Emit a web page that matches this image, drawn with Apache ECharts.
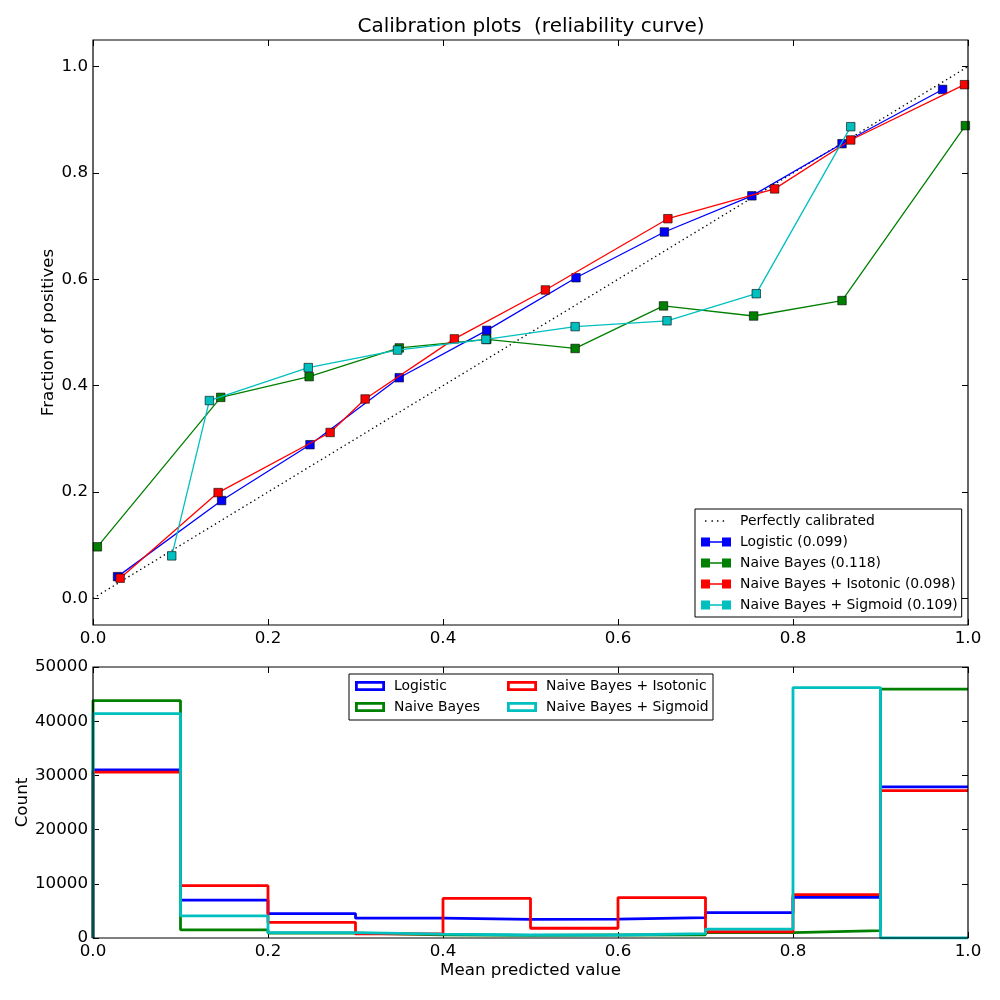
<!DOCTYPE html>
<html><head><meta charset="utf-8">
<script src="https://cdn.jsdelivr.net/npm/echarts@6/dist/echarts.min.js"></script>
<style>html,body{margin:0;padding:0;background:#fff}#c{width:1000px;height:1000px}</style>
</head><body><div id="c"></div>
<script>
// ---- data ----
const perfectX = [0, 1];
const perfectY = [0, 1];

const logisticX = [0.028, 0.147, 0.248, 0.350, 0.450, 0.552, 0.653, 0.753, 0.856, 0.971];
const logisticY = [0.041, 0.184, 0.289, 0.415, 0.504, 0.603, 0.689, 0.757, 0.855, 0.957];

const nbX = [0.005, 0.146, 0.247, 0.350, 0.450, 0.551, 0.652, 0.755, 0.856, 0.997];
const nbY = [0.097, 0.378, 0.417, 0.471, 0.487, 0.470, 0.550, 0.531, 0.560, 0.889];

const isoX = [0.031, 0.143, 0.271, 0.311, 0.413, 0.517, 0.657, 0.779, 0.866, 0.996];
const isoY = [0.038, 0.199, 0.312, 0.375, 0.488, 0.580, 0.714, 0.770, 0.862, 0.966];

const sigX = [0.090, 0.133, 0.246, 0.348, 0.449, 0.551, 0.656, 0.758, 0.866];
const sigY = [0.080, 0.372, 0.434, 0.467, 0.487, 0.511, 0.522, 0.573, 0.887];

const modelNames = ['Logistic', 'Naive Bayes', 'Naive Bayes + Isotonic', 'Naive Bayes + Sigmoid'];
const brierScores = ['0.099', '0.118', '0.098', '0.109'];

const binEdges = [0, 0.1, 0.2, 0.3, 0.4, 0.5, 0.6, 0.7, 0.8, 0.9, 1.0];
const logisticCounts = [31000, 7000, 4500, 3650, 3450, 3500, 3750, 4700, 7500, 27900];
const nbCounts       = [43800, 1500, 900, 600, 500, 550, 600, 1000, 1350, 45900];
const isoCounts      = [30600, 9650, 2900, 750, 7300, 1800, 7450, 1150, 8000, 27200];
const sigCounts      = [41400, 4100, 1000, 700, 550, 550, 800, 1650, 46200, 0];

const yTicksTop = [0, 0.2, 0.4, 0.6, 0.8, 1.0];

// ---- styles ----
const FONT = 'DejaVu Sans';
const colors = ['#0000ff', '#008000', '#ff0000', '#00bfbf'];
const pairs = (xs, ys) => xs.map((x, i) => [x, ys[i]]);
// step outline of a histogram (the closing edge at x=1 is hidden by the frame, so it is omitted)
const steps = (counts) => {
  const pts = [[binEdges[0], 0]];
  counts.forEach((c, i) => { pts.push([binEdges[i], c]); pts.push([binEdges[i + 1], c]); });
  return pts;
};

const sqIcon = 'path://M0,0L0,0M34,9L34,9M0,0H9V9H0Z M21,0H30V9H21Z M9,3.8H21V5.2H9Z';
const dotIcon = 'path://M0,0L0,0M34,9L34,9M4,3.8h1.4v1.4h-1.4z M10.5,3.8h1.4v1.4h-1.4z M16,3.8h1.4v1.4h-1.4z M21.7,3.8h1.4v1.4h-1.4z';
const rectIcon = 'path://M0,0L0,0M34,10L34,10M0,0H30V10H0Z M2.8,2.8V7.2H27.2V2.8Z';

const lblStyle = { color: '#000', fontSize: 16.7, fontFamily: FONT };
const tickStyle = { show: true, inside: true, length: 6, lineStyle: { color: '#000', width: 1 } };

function xAx(grid, pos, labels, name) {
  return {
    type: 'value', gridIndex: grid, position: pos, min: 0, max: 1, interval: 0.2,
    axisLine: { show: false, onZero: false }, axisTick: tickStyle, splitLine: { show: false },
    axisLabel: Object.assign({ show: labels, margin: 5, formatter: v => v.toFixed(1) }, lblStyle),
    name: name || '', nameLocation: 'middle', nameGap: 24, nameMoveOverlap: false, nameTextStyle: lblStyle
  };
}

const lineSeries = (name, data, color, z) => ({
  type: 'line', name, data, xAxisIndex: 0, yAxisIndex: 0, z,
  symbol: 'rect', symbolSize: 8.5, showSymbol: true,
  itemStyle: { color, borderColor: '#000', borderWidth: 0.6 },
  lineStyle: { color, width: 1.3 },
  emphasis: { disabled: true }, silent: true, animation: false
});
const histSeries = (name, counts, color, z) => ({
  type: 'line', name, data: steps(counts), xAxisIndex: 2, yAxisIndex: 2, z,
  symbol: 'none', itemStyle: { color }, lineStyle: { color, width: 2.8 },
  emphasis: { disabled: true }, silent: true, animation: false
});

const legendText = { color: '#000', fontSize: 13.9, fontFamily: FONT, lineHeight: 14 };

const option = {
  backgroundColor: '#fff',
  animation: false,
  title: {
    text: 'Calibration plots  (reliability curve)', left: 531, top: 17, textAlign: 'center', padding: 0,
    textStyle: { color: '#000', fontSize: 20, fontWeight: 'normal', fontFamily: FONT }
  },
  grid: [
    { left: 93, width: 875, top: 40, height: 585, show: true, borderColor: '#000', borderWidth: 1.2,
      containLabel: false, outerBoundsMode: 'none', z: 10 },
    { left: 93, width: 875, top: 667, height: 271, show: true, borderColor: '#000', borderWidth: 1.2,
      containLabel: false, outerBoundsMode: 'none', z: 10 }
  ],
  xAxis: [
    xAx(0, 'bottom', true),
    xAx(0, 'top', false),
    xAx(1, 'bottom', true, 'Mean predicted value'),
    xAx(1, 'top', false)
  ],
  yAxis: [
    {
      type: 'value', gridIndex: 0, position: 'left', min: -0.05, max: 1.05,
      axisLine: { show: false, onZero: false }, splitLine: { show: false },
      axisTick: Object.assign({ customValues: yTicksTop }, tickStyle),
      axisLabel: Object.assign({ customValues: yTicksTop, margin: 5, formatter: v => v.toFixed(1) }, lblStyle),
      name: 'Fraction of positives', nameLocation: 'middle', nameGap: 36, nameMoveOverlap: false, nameTextStyle: lblStyle
    },
    {
      type: 'value', gridIndex: 0, position: 'right', min: -0.05, max: 1.05,
      axisLine: { show: false, onZero: false }, splitLine: { show: false },
      axisTick: Object.assign({ customValues: yTicksTop }, tickStyle),
      axisLabel: { show: false, customValues: yTicksTop }
    },
    {
      type: 'value', gridIndex: 1, position: 'left', min: 0, max: 50000, interval: 10000,
      axisLine: { show: false, onZero: false }, splitLine: { show: false }, axisTick: tickStyle,
      axisLabel: Object.assign({ margin: 5, formatter: v => String(v) }, lblStyle),
      name: 'Count', nameLocation: 'middle', nameGap: 62, nameMoveOverlap: false, nameTextStyle: lblStyle
    },
    {
      type: 'value', gridIndex: 1, position: 'right', min: 0, max: 50000, interval: 10000,
      axisLine: { show: false, onZero: false }, splitLine: { show: false }, axisTick: tickStyle,
      axisLabel: { show: false }
    }
  ],
  legend: [
    {
      orient: 'vertical', left: 695, top: 509, padding: [5, 4, 5, 6],
      itemWidth: 34, itemHeight: 9, itemGap: 7, selectedMode: false,
      borderColor: '#000', borderWidth: 1, backgroundColor: '#fff',
      itemStyle: { borderWidth: 0 }, textStyle: legendText,
      data: [{ name: 'Perfectly calibrated', icon: dotIcon }].concat(
        modelNames.map((n, i) => ({ name: n + ' (' + brierScores[i] + ')', icon: sqIcon })))
    },
    {
      orient: 'vertical', left: 355, top: 679, padding: 0,
      itemWidth: 34, itemHeight: 10, itemGap: 7, selectedMode: false,
      itemStyle: { borderWidth: 0 }, textStyle: legendText,
      data: modelNames.slice(0, 2).map(n => ({ name: n, icon: rectIcon }))
    },
    {
      orient: 'vertical', left: 507, top: 679, padding: 0,
      itemWidth: 34, itemHeight: 10, itemGap: 7, selectedMode: false,
      itemStyle: { borderWidth: 0 }, textStyle: legendText,
      data: modelNames.slice(2, 4).map(n => ({ name: n, icon: rectIcon }))
    }
  ],
  graphic: [
    { type: 'rect', z: 3, shape: { x: 349, y: 674, width: 364, height: 46 },
      style: { fill: '#fff', stroke: '#000', lineWidth: 1 }, silent: true }
  ],
  series: [
    {
      type: 'line', name: 'Perfectly calibrated', data: pairs(perfectX, perfectY),
      xAxisIndex: 0, yAxisIndex: 0, symbol: 'none', z: 1,
      itemStyle: { color: '#000' }, lineStyle: { color: '#000', width: 1.3, type: [1.4, 3.2] },
      emphasis: { disabled: true }, silent: true, animation: false
    },
    lineSeries(modelNames[0] + ' (' + brierScores[0] + ')', pairs(logisticX, logisticY), colors[0], 2),
    lineSeries(modelNames[1] + ' (' + brierScores[1] + ')', pairs(nbX, nbY), colors[1], 3),
    lineSeries(modelNames[2] + ' (' + brierScores[2] + ')', pairs(isoX, isoY), colors[2], 4),
    lineSeries(modelNames[3] + ' (' + brierScores[3] + ')', pairs(sigX, sigY), colors[3], 5),
    histSeries(modelNames[0], logisticCounts, colors[0], 2),
    histSeries(modelNames[1], nbCounts, colors[1], 3),
    histSeries(modelNames[2], isoCounts, colors[2], 4),
    histSeries(modelNames[3], sigCounts, colors[3], 5)
  ]
};

const chart = echarts.init(document.getElementById('c'), null, { renderer: 'canvas' });
chart.setOption(option);
</script>
</body></html>
